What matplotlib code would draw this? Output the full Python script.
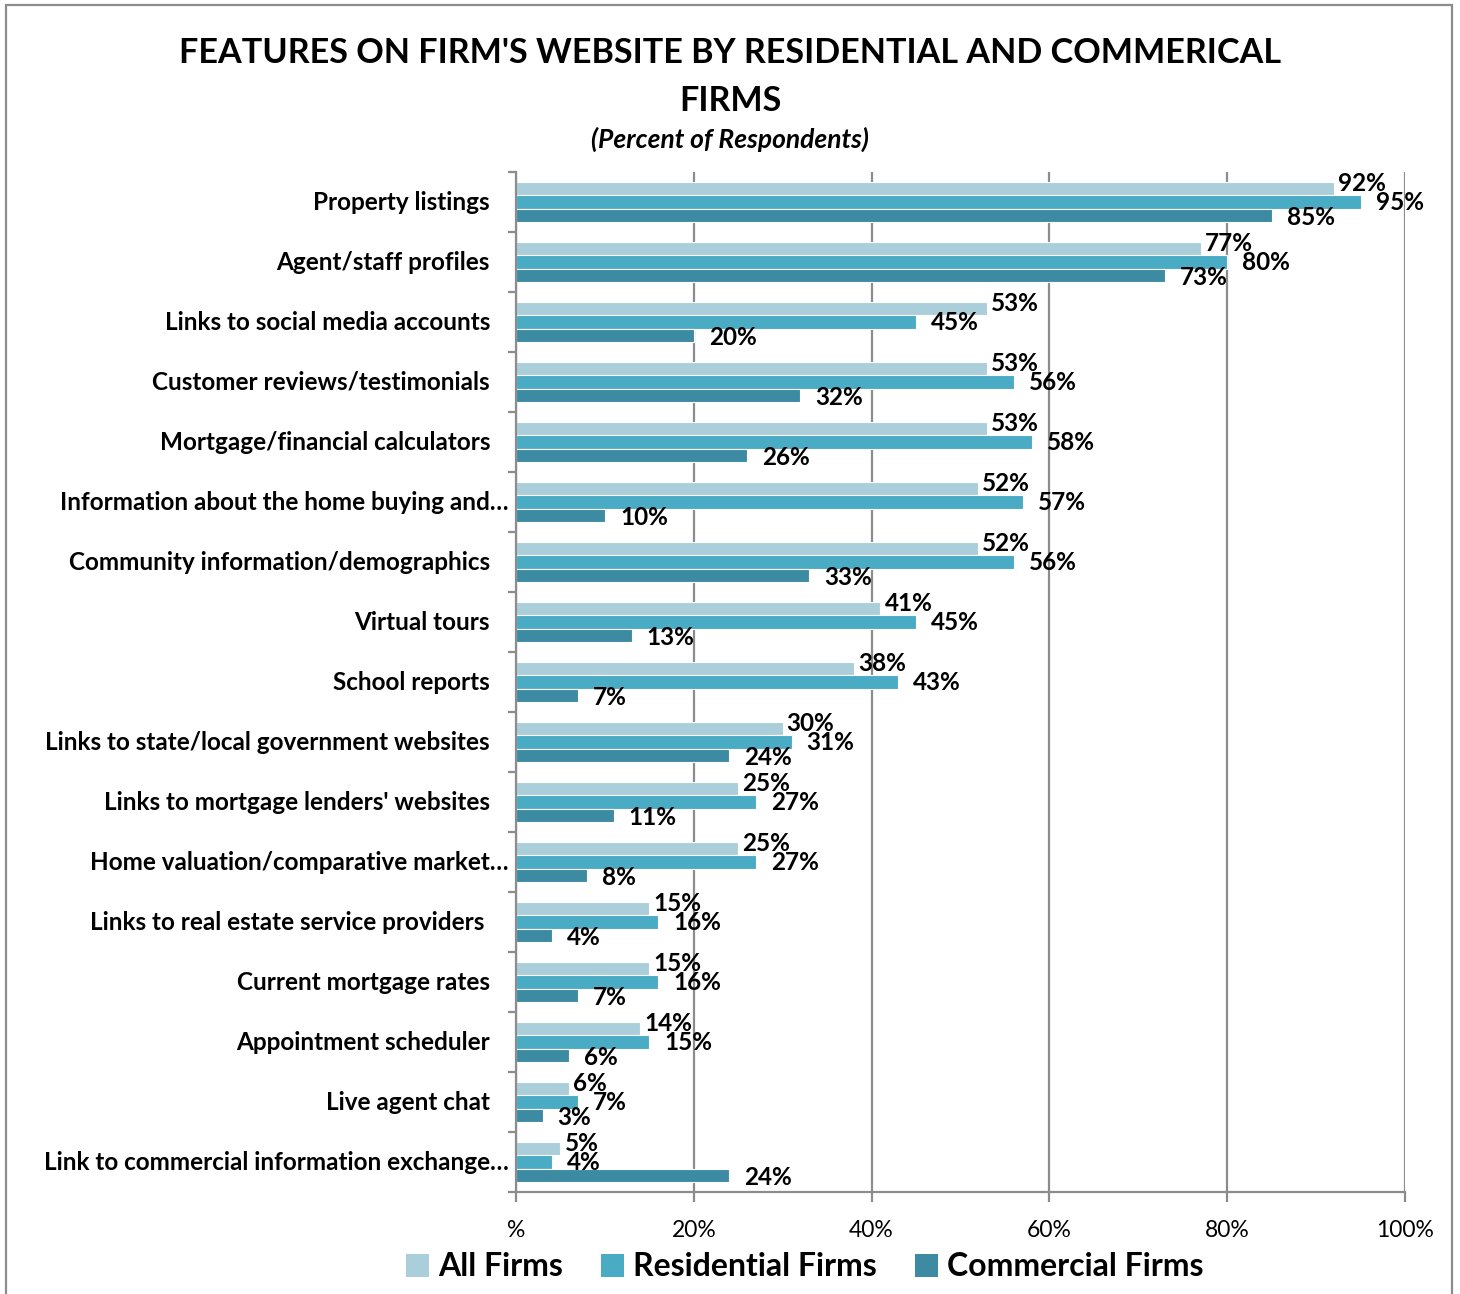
import matplotlib.pyplot as plt
from matplotlib.patches import Rectangle, Patch
import numpy as np

plt.rcParams['font.family'] = ['Lato', 'DejaVu Sans']

categories = [
    'Property listings',
    'Agent/staff profiles',
    'Links to social media accounts',
    'Customer reviews/testimonials',
    'Mortgage/financial calculators',
    'Information about the home buying and\u2026',
    'Community information/demographics',
    'Virtual tours',
    'School reports',
    'Links to state/local government websites',
    "Links to mortgage lenders' websites",
    'Home valuation/comparative market\u2026',
    'Links to real estate service providers ',
    'Current mortgage rates',
    'Appointment scheduler',
    'Live agent chat',
    'Link to commercial information exchange\u2026',
]
all_firms = [92, 77, 53, 53, 53, 52, 52, 41, 38, 30, 25, 25, 15, 15, 14, 6, 5]
residential = [95, 80, 45, 56, 58, 57, 56, 45, 43, 31, 27, 27, 16, 16, 15, 7, 4]
commercial = [85, 73, 20, 32, 26, 10, 33, 13, 7, 24, 11, 8, 4, 7, 6, 3, 24]
series_names = ['All Firms', 'Residential Firms', 'Commercial Firms']
colors = ['#AACFDB', '#4AABC5', '#3D8BA3']
xticks = [0, 20, 40, 60, 80, 100]
xtick_labels = ['%', '20%', '40%', '60%', '80%', '100%']

W, H = 1460, 1294
fig = plt.figure(figsize=(W / 100, H / 100), dpi=100)
ax = fig.add_axes([516 / W, 1 - 1192 / H, (1405 - 516) / W, (1192 - 172) / H])

y = np.arange(len(categories))
bh = 0.222
grey = '#8C8C8C'

ax.set_axisbelow(True)
ax.grid(axis='x', color=grey, linewidth=1.6)
ax.grid(axis='y', visible=False)

# label offsets (px) per series: (dx, dy)
offsets = [(4, 5), (15, -1), (15, -2)]
for k, vals in enumerate([all_firms, residential, commercial]):
    pos = y + (k - 1) * bh
    ax.barh(pos, vals, height=bh, color=colors[k], edgecolor='white',
            linewidth=0.8, label=series_names[k])
    for p, v in zip(pos, vals):
        ax.annotate(f'{v}%', xy=(v, p), xytext=offsets[k], textcoords='offset pixels',
                    ha='left', va='center', fontsize=17.5, fontweight='bold', color='black')

ax.set_xlim(0, 100)
ax.set_ylim(len(categories) - 0.5, -0.5)

# category labels, drawn as text so the truncated ones can hang past the others
ax.set_yticks(np.arange(len(categories) + 1) - 0.5)
ax.set_yticklabels([])
ax.tick_params(axis='y', direction='out', length=6, width=1.6, color=grey)
for i, c in enumerate(categories):
    dx = -7 if c.endswith('\u2026') else -26
    ax.annotate(c.rstrip(), xy=(0, i), xycoords=('axes fraction', 'data'),
                xytext=(dx - (6 if c.endswith(' ') else 0), 0), textcoords='offset pixels',
                ha='right', va='center', fontsize=17.5, fontweight='bold')

ax.set_xticks(xticks)
ax.set_xticklabels(xtick_labels, fontsize=16.5)
ax.tick_params(axis='x', direction='out', length=7, width=1.6, color=grey, pad=13)

for side in ['top', 'right']:
    ax.spines[side].set_visible(False)
for side in ['left', 'bottom']:
    ax.spines[side].set_color(grey)
    ax.spines[side].set_linewidth(1.6)

fig.text(730 / W, 1 - 77 / H,
         "FEATURES ON FIRM'S WEBSITE BY RESIDENTIAL AND COMMERICAL\nFIRMS",
         ha='center', va='center', fontsize=24.6, fontweight='bold', linespacing=1.65)
fig.text(730 / W, 1 - 139 / H, '(Percent of Respondents)', ha='center', va='center',
         fontsize=19, fontweight='bold', style='italic')

handles = [Patch(facecolor=c) for c in colors]
fig.legend(handles, series_names, loc='center', bbox_to_anchor=(805 / W, 1 - 1267 / H),
           ncol=3, frameon=False, prop={'size': 23, 'weight': 'bold'},
           handlelength=0.7, handleheight=0.7, handletextpad=0.3, columnspacing=1.2)

# outer chart border
fig.add_artist(Rectangle((6 / W, -0.01), (1452 - 6) / W, 1 - 5 / H + 0.01,
                         transform=fig.transFigure, fill=False, edgecolor=grey, linewidth=1.6))

fig.savefig('out.png', dpi=100)
